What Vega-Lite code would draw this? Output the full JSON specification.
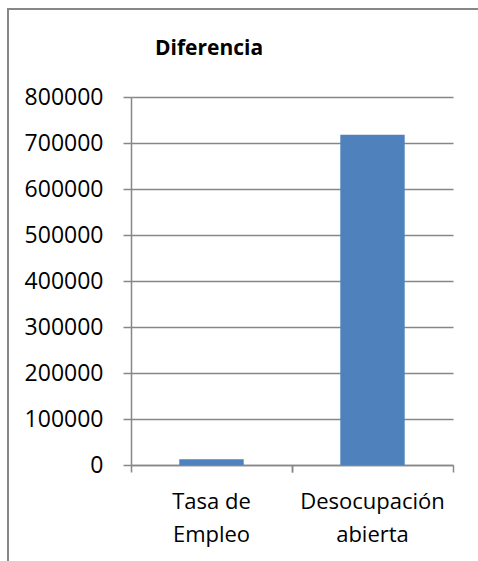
{
  "$schema": "https://vega.github.io/schema/vega-lite/v6.json",
  "autosize": "none",
  "padding": {"left": 8, "top": 9, "right": 0, "bottom": 0},
  "width": 490,
  "height": 600,
  "background": "white",
  "title": {
    "text": "Diferencia",
    "anchor": "start",
    "frame": "group",
    "font": "Open Sans",
    "fontSize": 21,
    "fontWeight": "bold",
    "color": "black",
    "baseline": "alphabetic",
    "offset": 0,
    "dx": 147,
    "dy": 67
  },
  "config": {
    "view": {"stroke": "#878787", "strokeWidth": 2},
    "axis": {
      "labelFont": "Open Sans",
      "labelFontSize": 22,
      "labelColor": "black",
      "domainColor": "#878787",
      "tickColor": "#878787",
      "gridColor": "#878787",
      "domainWidth": 1.5,
      "tickWidth": 1.5,
      "gridWidth": 1.5
    }
  },
  "data": {
    "values": [
      {"categoria": "Tasa de Empleo", "valor": 12500},
      {"categoria": "Desocupación abierta", "valor": 718000}
    ]
  },
  "resolve": {"axis": {"x": "independent"}},
  "layer": [
    {
      "mark": {"type": "bar", "color": "#4f81bd"},
      "encoding": {
        "x": {
          "field": "categoria",
          "type": "nominal",
          "sort": null,
          "scale": {"range": [123, 445], "paddingInner": 0.6, "paddingOuter": 0.3},
          "axis": {
            "title": null,
            "orient": "bottom",
            "offset": -144,
            "bandPosition": -0.75,
            "labelAngle": 0,
            "tickSize": 7,
            "labelPadding": 19,
            "labelLineHeight": 33,
            "labelBaseline": "top",
            "labelExpr": "datum.value == 'Tasa de Empleo' ? ['Tasa de', 'Empleo'] : ['Desocupación', 'abierta']"
          }
        },
        "y": {
          "field": "valor",
          "type": "quantitative",
          "scale": {"domain": [0, 800000], "range": [456, 88], "nice": false, "zero": true},
          "axis": {
            "title": null,
            "orient": "left",
            "offset": -123,
            "values": [0, 100000, 200000, 300000, 400000, 500000, 600000, 700000, 800000],
            "format": "d",
            "tickSize": 8,
            "labelPadding": 20,
            "labelFontSize": 23,
            "grid": true
          }
        }
      }
    },
    {
      "mark": {"type": "bar", "opacity": 0},
      "encoding": {
        "x": {
          "field": "categoria",
          "type": "nominal",
          "sort": null,
          "axis": {
            "title": null,
            "orient": "bottom",
            "offset": -144,
            "bandPosition": 1.75,
            "labels": false,
            "domain": false,
            "tickSize": 7
          }
        },
        "y": {"field": "valor", "type": "quantitative"}
      }
    }
  ]
}
